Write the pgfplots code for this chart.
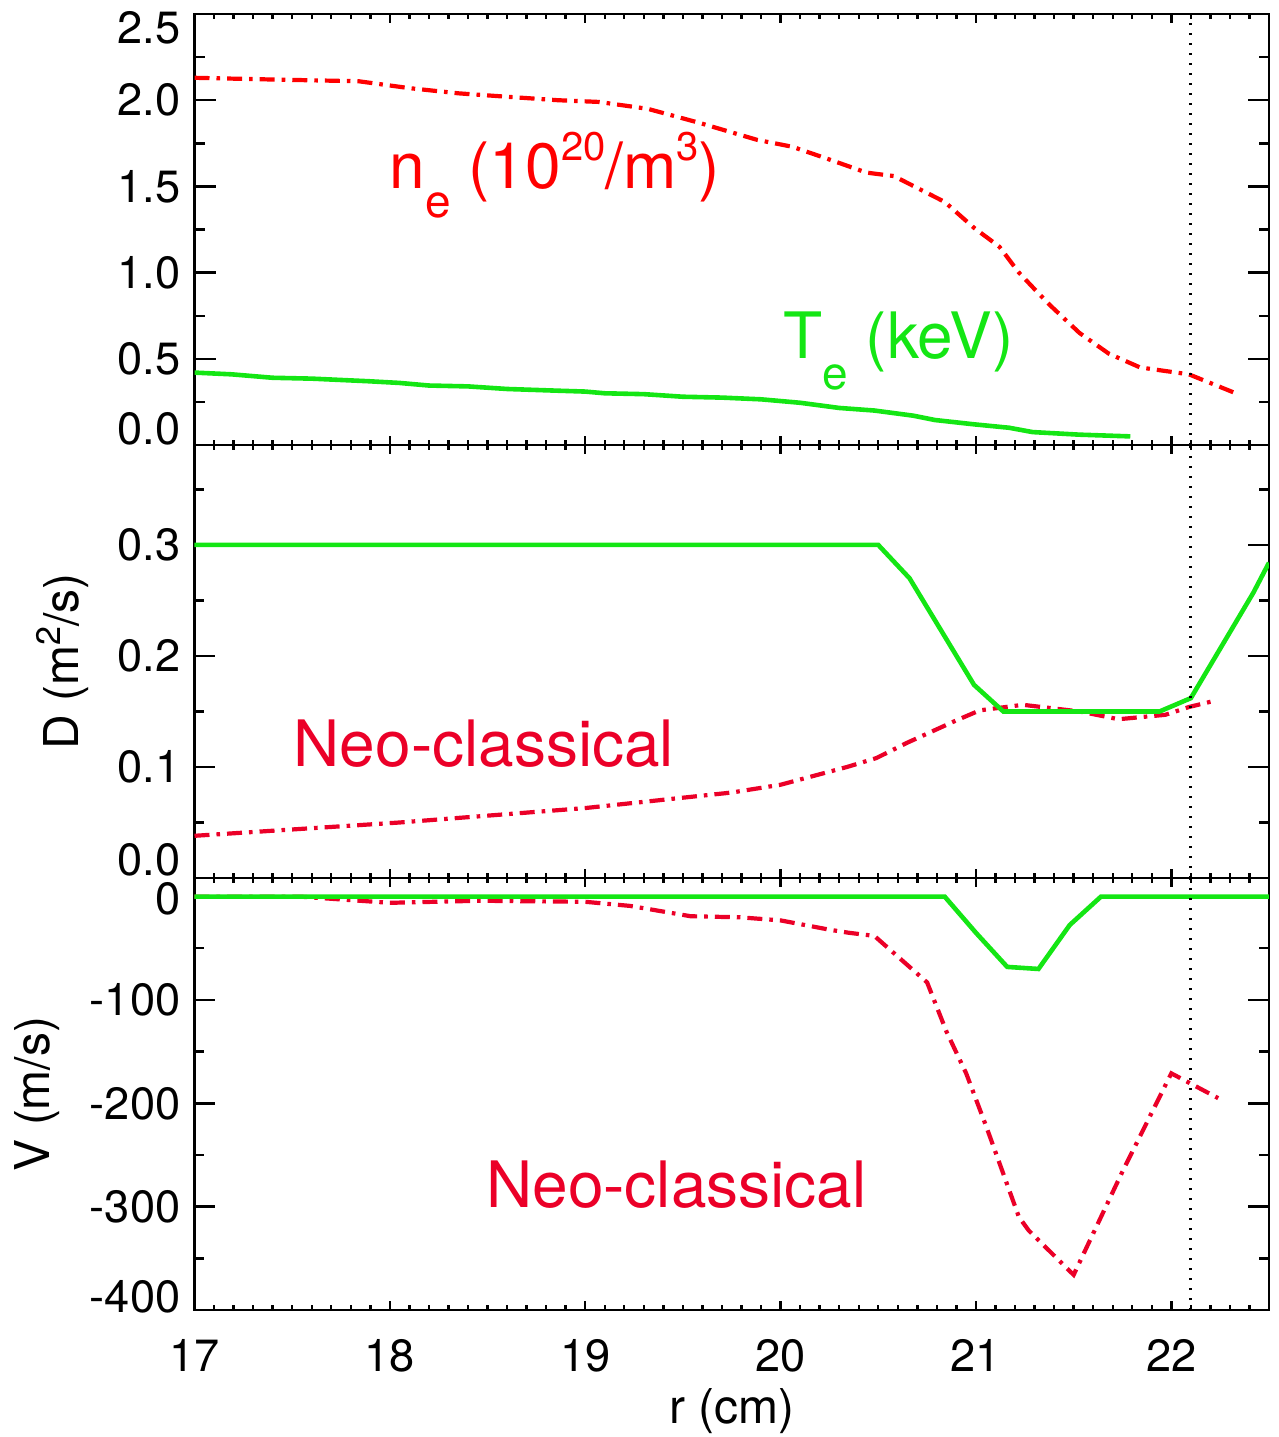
\documentclass[border=0pt]{standalone}
\usepackage{pgfplots}
\pgfplotsset{compat=1.18}
\usepackage{fontspec}
\setmainfont{TeX Gyre Heros}
\definecolor{nered}{RGB}{255,0,0}
\definecolor{neored}{RGB}{235,0,40}
\definecolor{lgreen}{RGB}{20,230,20}
\newcommand{\bigf}{\fontsize{16}{18}\selectfont}
\newcommand{\subf}{\fontsize{11.5}{12}\selectfont}
\newcommand{\supf}{\fontsize{10}{11}\selectfont}
\begin{document}
\begin{tikzpicture}
\useasboundingbox (0,0) rectangle (319.5pt,-359.25pt);
\pgfplotsset{
  panel/.style={
    scale only axis, width=268.625pt,
    xmin=17, xmax=22.5,
    xtick={17,18,19,20,21,22},
    minor xtick={17.1,17.2,...,22.45},
    tick align=inside,
    major tick length=5.25pt, minor tick length=2.5pt,
    xtick style={/pgfplots/major tick length=2.25pt,/pgfplots/minor tick length=1.25pt},
    axis line style={line width=0.6pt},
    every tick/.style={black, line width=0.6pt},
    tick label style={font=\fontsize{11.3}{13}\selectfont},
    xticklabel style={anchor=base, yshift=-15.25pt},
    every axis y label/.style={rotate=90, anchor=base, font=\fontsize{12}{14}\selectfont},
    every axis x label/.style={at={(axis description cs:0.5,-0.2616)}, anchor=base, font=\fontsize{12}{14}\selectfont},
  },
  dashdot/.style={line width=1.05pt, dash pattern=on 3.75pt off 1.75pt on 0.9pt off 1.75pt},
  solidg/.style={line width=1.15pt, lgreen},
  vdot/.style={black, line width=0.75pt, dash pattern=on 0.6pt off 1.9pt},
}
% ---------------- top panel ----------------
\begin{axis}[panel, at={(48.625pt,-3.5pt)}, anchor=north west, height=107.75pt,
  ymin=0, ymax=2.5,
  ytick={0,0.5,1,1.5,2,2.5},
  yticklabels={\raisebox{4pt}[\height][\depth]{0.0},0.5,1.0,1.5,2.0,\raisebox{-3.5pt}[\height][\depth]{2.5}},
  minor ytick={0.25,0.75,1.25,1.75,2.25},
  xticklabels={}]
\addplot[dashdot, nered] coordinates {
(17.0,2.13) (17.4,2.12) (17.84,2.11) (18.1,2.07) (18.35,2.04) (18.6,2.02)
(18.86,2.00) (19.07,1.99) (19.32,1.95) (19.58,1.87) (19.88,1.77) (20.06,1.73)
(20.24,1.66) (20.44,1.58) (20.58,1.56) (20.84,1.41) (20.99,1.26) (21.12,1.15)
(21.22,1.00) (21.32,0.88) (21.38,0.81) (21.53,0.65) (21.68,0.53) (21.84,0.45)
(22.09,0.41) (22.33,0.30)};
\addplot[solidg] coordinates {
(17.0,0.42) (17.19,0.41) (17.4,0.39) (17.6,0.385) (17.89,0.37) (18.05,0.36)
(18.2,0.345) (18.4,0.34) (18.6,0.325) (18.86,0.315) (19.0,0.31) (19.1,0.30)
(19.3,0.295) (19.5,0.28) (19.7,0.275) (19.9,0.265) (20.1,0.245) (20.3,0.215)
(20.48,0.20) (20.68,0.17) (20.79,0.145) (20.99,0.12) (21.17,0.10) (21.29,0.075)
(21.53,0.06) (21.79,0.05)};
\addplot[vdot] coordinates {(22.1,0) (22.1,2.5)};
\node[anchor=base west, inner sep=0pt, text=nered, font=\bigf, xshift=-1pt] at (axis cs:18.015,1.49)
  {n\raisebox{-7.25pt}{\subf e} (10\raisebox{7pt}{\supf 20}/m\raisebox{7pt}{\supf 3})};
\node[anchor=base west, inner sep=0pt, text=lgreen, font=\bigf] at (axis cs:20.01,0.50)
  {T\raisebox{-7.75pt}{\subf e} (keV)};
\end{axis}
% ---------------- middle panel ----------------
\begin{axis}[panel, at={(48.625pt,-111.25pt)}, anchor=north west, height=108.25pt,
  ymin=0, ymax=0.39,
  ytick={0,0.1,0.2,0.3},
  yticklabels={\raisebox{4.6pt}[\height][\depth]{0.0},0.1,0.2,0.3},
  minor ytick={0.05,0.15,0.25,0.35},
  xticklabels={},
  ylabel={D (m\raisebox{4.5pt}{\fontsize{8.5}{9}\selectfont 2}/s)},
  ylabel style={at={(axis description cs:-0.1084,0.5)}}]
\addplot[dashdot, neored] coordinates {
(17.0,0.038) (18.05,0.050) (19.0,0.063) (19.75,0.077) (20.0,0.084) (20.34,0.10)
(20.49,0.108) (20.65,0.122) (20.9,0.142) (21.02,0.151) (21.24,0.156) (21.53,0.15)
(21.73,0.143) (21.97,0.147) (22.09,0.154) (22.23,0.16)};
\addplot[solidg] coordinates {
(17.0,0.3) (20.5,0.3) (20.66,0.27) (20.99,0.174) (21.14,0.15) (21.94,0.15)
(22.1,0.162) (22.42,0.257) (22.5,0.284)};
\addplot[vdot] coordinates {(22.1,0) (22.1,0.39)};
\node[anchor=base west, inner sep=0pt, text=neored, font=\bigf, xshift=-1pt] at (axis cs:17.524,0.1) {Neo-classical};
\end{axis}
% ---------------- bottom panel ----------------
\begin{axis}[panel, at={(48.625pt,-219.5pt)}, anchor=north west, height=108pt,
  ymin=-400, ymax=18,
  ytick={-400,-300,-200,-100,0},
  yticklabels={\raisebox{3.25pt}[\height][\depth]{-400},-300,-200,-100,\raisebox{-0.5pt}[\height][\depth]{0}},
  minor ytick={-350,-250,-150,-50},
  xticklabels={17,18,19,20,21,22},
  xlabel={r (cm)},
  ylabel={V (m/s)},
  ylabel style={at={(axis description cs:-0.1354,0.5)}}]
\addplot[dashdot, neored] coordinates {
(17.0,0) (17.54,0) (18.0,-6) (18.46,-4) (19.0,-5) (19.23,-9) (19.54,-19)
(19.79,-20) (20.0,-23) (20.25,-32) (20.35,-35) (20.48,-38) (20.75,-83)
(20.85,-131) (20.95,-171) (21.05,-221) (21.22,-310) (21.27,-323) (21.5,-366)
(21.75,-266) (22.0,-171) (22.24,-195)};
\addplot[solidg] coordinates {
(17.0,0) (20.84,0) (21.0,-35) (21.16,-68) (21.32,-70) (21.48,-27.5) (21.64,0) (22.5,0)};
\addplot[vdot] coordinates {(22.1,-400) (22.1,18)};
\node[anchor=base west, inner sep=0pt, text=neored, font=\bigf, xshift=-1pt] at (axis cs:18.51,-301) {Neo-classical};
\end{axis}
\end{tikzpicture}
\end{document}
